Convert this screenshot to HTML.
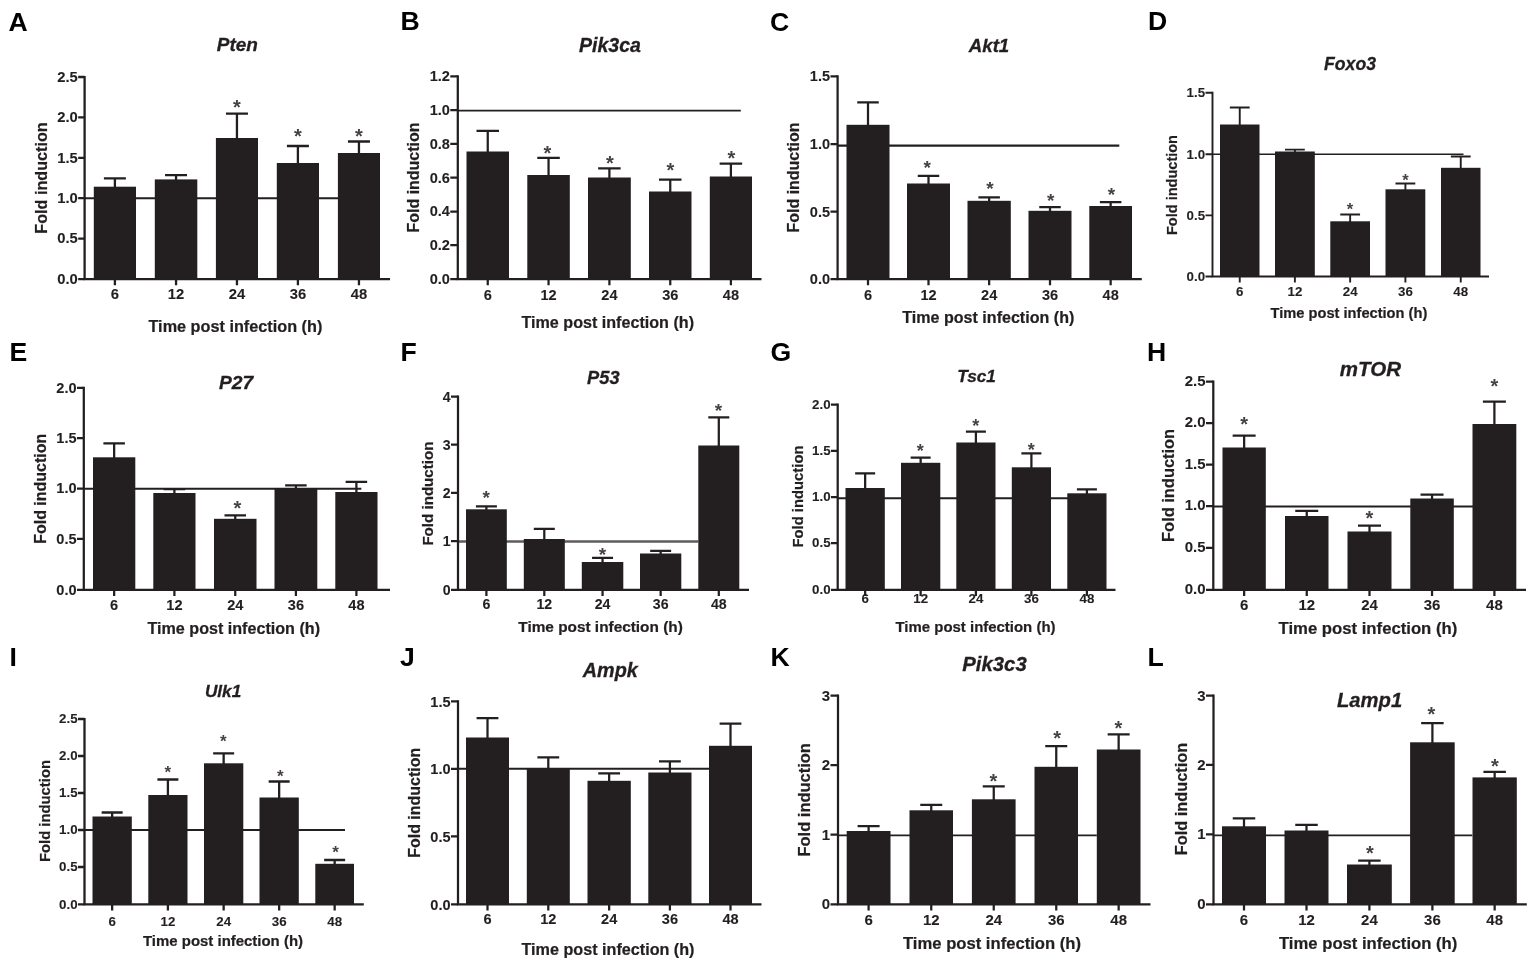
<!DOCTYPE html>
<html lang="en">
<head>
<meta charset="utf-8">
<title>Fold induction of autophagy-related genes over time post infection</title>
<style>
html,body{margin:0;padding:0;background:#fff;}
body{width:1535px;height:967px;overflow:hidden;}
svg{display:block;filter:blur(0.65px);}
text{font-family:"Liberation Sans",Arial,Helvetica,sans-serif;fill:#231f20;}
.t{font-weight:700;stroke:#231f20;stroke-width:0.22px;}
.k{stroke-width:0.1px;}
.ti{font-weight:700;font-style:italic;stroke:#231f20;stroke-width:0.3px;}
.l{font-weight:700;fill:#000;}
.s{font-weight:700;fill:#464243;}
.b{fill:#231f20;}
.a{fill:none;stroke:#231f20;}
.e{fill:none;stroke:#231f20;}
.r{fill:none;stroke:#231f20;}
</style>
</head>
<body>
<svg width="1535" height="967" viewBox="0 0 1535 967" role="img" aria-label="Bar charts of fold induction versus time post infection for twelve genes">
<rect x="0" y="0" width="1535" height="967" fill="#fff"/>
<g id="panel-A" stroke-width="2.3">
<line class="r" stroke-width="1.99" x1="84.6" y1="198.2" x2="340" y2="198.2"/>
<path class="e" d="M114.9 187.7V178.3M103.9 178.3H125.9"/>
<path class="e" d="M176.05 180.4V175.2M165.05 175.2H187.05"/>
<path class="e" d="M236.95 139V113.6M225.95 113.6H247.95"/>
<path class="e" d="M297.9 164V146M286.9 146H308.9"/>
<path class="e" d="M358.95 154V141.5M347.95 141.5H369.95"/>
<rect class="b" x="93.8" y="186.7" width="42.2" height="92.5"/>
<rect class="b" x="154.8" y="179.4" width="42.5" height="99.8"/>
<rect class="b" x="215.9" y="138" width="42.1" height="141.2"/>
<rect class="b" x="276.8" y="163" width="42.2" height="116.2"/>
<rect class="b" x="337.9" y="153" width="42.1" height="126.2"/>
<path class="a" d="M84.6 75.9V279.2H390"/>
<path class="a" d="M78.2 279.2H84.6M78.2 238.6H84.6M78.2 198.2H84.6M78.2 157.8H84.6M78.2 117.4H84.6M78.2 77H84.6M114.9 279.2V285.2M176.05 279.2V285.2M236.95 279.2V285.2M297.9 279.2V285.2M358.95 279.2V285.2"/>
<text class="t k" text-anchor="end" font-size="14.77" x="77.8" y="283.92">0.0</text>
<text class="t k" text-anchor="end" font-size="14.77" x="77.8" y="243.32">0.5</text>
<text class="t k" text-anchor="end" font-size="14.77" x="77.8" y="202.92">1.0</text>
<text class="t k" text-anchor="end" font-size="14.77" x="77.8" y="162.52">1.5</text>
<text class="t k" text-anchor="end" font-size="14.77" x="77.8" y="122.12">2.0</text>
<text class="t k" text-anchor="end" font-size="14.77" x="77.8" y="81.72">2.5</text>
<text class="t k" text-anchor="middle" font-size="14.77" x="114.9" y="298.8">6</text>
<text class="t k" text-anchor="middle" font-size="14.77" x="176.05" y="298.8">12</text>
<text class="t k" text-anchor="middle" font-size="14.77" x="236.95" y="298.8">24</text>
<text class="t k" text-anchor="middle" font-size="14.77" x="297.9" y="298.8">36</text>
<text class="t k" text-anchor="middle" font-size="14.77" x="358.95" y="298.8">48</text>
<text class="s" text-anchor="middle" font-size="20" x="236.9" y="113.9">*</text>
<text class="s" text-anchor="middle" font-size="20" x="298" y="142.6">*</text>
<text class="s" text-anchor="middle" font-size="20" x="358.8" y="142.6">*</text>
<text class="t" font-size="16.2" x="148.5" y="331.5" textLength="173.8" lengthAdjust="spacingAndGlyphs">Time post infection (h)</text>
<text class="t" font-size="16.69" transform="translate(46.6 233.75) rotate(-90)" x="0" y="0" textLength="111.5" lengthAdjust="spacingAndGlyphs">Fold induction</text>
<text class="ti" font-size="19" x="216.8" y="51.3" textLength="41.2" lengthAdjust="spacingAndGlyphs">Pten</text>
<text class="l" font-size="26.6" x="8.6" y="30.5">A</text>
</g>
<g id="panel-B" stroke-width="2.25">
<line class="r" stroke-width="1.94" x1="457.8" y1="110.6" x2="740.8" y2="110.6"/>
<path class="e" d="M487.75 152.5V130.8M476.5 130.8H499"/>
<path class="e" d="M548.55 176V157.8M537.3 157.8H559.8"/>
<path class="e" d="M609.4 178.5V168.3M598.15 168.3H620.65"/>
<path class="e" d="M670.25 192.5V179.5M659 179.5H681.5"/>
<path class="e" d="M730.9 177.5V163.5M719.65 163.5H742.15"/>
<rect class="b" x="466.5" y="151.5" width="42.5" height="127.7"/>
<rect class="b" x="527.3" y="175" width="42.5" height="104.2"/>
<rect class="b" x="588" y="177.5" width="42.8" height="101.7"/>
<rect class="b" x="649" y="191.5" width="42.5" height="87.7"/>
<rect class="b" x="709.8" y="176.5" width="42.2" height="102.7"/>
<path class="a" d="M457.8 75.2V279.2H761.5"/>
<path class="a" d="M450.3 279.2H457.8M450.3 245.2H457.8M450.3 211.5H457.8M450.3 177.7H457.8M450.3 143.9H457.8M450.3 110.2H457.8M450.3 76.3H457.8M487.75 279.2V285.2M548.55 279.2V285.2M609.4 279.2V285.2M670.25 279.2V285.2M730.9 279.2V285.2"/>
<text class="t k" text-anchor="end" font-size="14.56" x="449.9" y="284.14">0.0</text>
<text class="t k" text-anchor="end" font-size="14.56" x="449.9" y="250.14">0.2</text>
<text class="t k" text-anchor="end" font-size="14.56" x="449.9" y="216.44">0.4</text>
<text class="t k" text-anchor="end" font-size="14.56" x="449.9" y="182.64">0.6</text>
<text class="t k" text-anchor="end" font-size="14.56" x="449.9" y="148.84">0.8</text>
<text class="t k" text-anchor="end" font-size="14.56" x="449.9" y="115.14">1.0</text>
<text class="t k" text-anchor="end" font-size="14.56" x="449.9" y="81.24">1.2</text>
<text class="t k" text-anchor="middle" font-size="14.56" x="487.75" y="299.8">6</text>
<text class="t k" text-anchor="middle" font-size="14.56" x="548.55" y="299.8">12</text>
<text class="t k" text-anchor="middle" font-size="14.56" x="609.4" y="299.8">24</text>
<text class="t k" text-anchor="middle" font-size="14.56" x="670.25" y="299.8">36</text>
<text class="t k" text-anchor="middle" font-size="14.56" x="730.9" y="299.8">48</text>
<text class="s" text-anchor="middle" font-size="20" x="547.3" y="159.7">*</text>
<text class="s" text-anchor="middle" font-size="20" x="610" y="169.7">*</text>
<text class="s" text-anchor="middle" font-size="20" x="670.3" y="176.7">*</text>
<text class="s" text-anchor="middle" font-size="20" x="731.5" y="164.7">*</text>
<text class="t" font-size="16.2" x="521.5" y="327.5" textLength="172.5" lengthAdjust="spacingAndGlyphs">Time post infection (h)</text>
<text class="t" font-size="16.48" transform="translate(419.3 232.5) rotate(-90)" x="0" y="0" textLength="110" lengthAdjust="spacingAndGlyphs">Fold induction</text>
<text class="ti" font-size="19.5" x="579" y="52" textLength="62" lengthAdjust="spacingAndGlyphs">Pik3ca</text>
<text class="l" font-size="26.6" x="400.6" y="30.2">B</text>
</g>
<g id="panel-C" stroke-width="2.25">
<line class="r" stroke-width="2.4" x1="837.6" y1="145.6" x2="1119.3" y2="145.6"/>
<path class="e" d="M868 125.8V102.3M857.25 102.3H878.75"/>
<path class="e" d="M928.5 184.5V175.8M917.75 175.8H939.25"/>
<path class="e" d="M989.15 201.8V197.3M978.4 197.3H999.9"/>
<path class="e" d="M1050 211.8V207M1039.25 207H1060.75"/>
<path class="e" d="M1110.65 207V202M1099.9 202H1121.4"/>
<rect class="b" x="846.5" y="124.8" width="43" height="154.4"/>
<rect class="b" x="907" y="183.5" width="43" height="95.7"/>
<rect class="b" x="967.5" y="200.8" width="43.3" height="78.4"/>
<rect class="b" x="1028.5" y="210.8" width="43" height="68.4"/>
<rect class="b" x="1089.3" y="206" width="42.7" height="73.2"/>
<path class="a" d="M837.6 75.2V279.2H1141.8"/>
<path class="a" d="M830.5 279.2H837.6M830.5 211.6H837.6M830.5 144.2H837.6M830.5 76.3H837.6M868 279.2V285.2M928.5 279.2V285.2M989.15 279.2V285.2M1050 279.2V285.2M1110.65 279.2V285.2"/>
<text class="t k" text-anchor="end" font-size="14.56" x="830.1" y="284.14">0.0</text>
<text class="t k" text-anchor="end" font-size="14.56" x="830.1" y="216.54">0.5</text>
<text class="t k" text-anchor="end" font-size="14.56" x="830.1" y="149.14">1.0</text>
<text class="t k" text-anchor="end" font-size="14.56" x="830.1" y="81.24">1.5</text>
<text class="t k" text-anchor="middle" font-size="14.56" x="868" y="299.8">6</text>
<text class="t k" text-anchor="middle" font-size="14.56" x="928.5" y="299.8">12</text>
<text class="t k" text-anchor="middle" font-size="14.56" x="989.15" y="299.8">24</text>
<text class="t k" text-anchor="middle" font-size="14.56" x="1050" y="299.8">36</text>
<text class="t k" text-anchor="middle" font-size="14.56" x="1110.65" y="299.8">48</text>
<text class="s" text-anchor="middle" font-size="19" x="927.3" y="174.44">*</text>
<text class="s" text-anchor="middle" font-size="19" x="990" y="194.94">*</text>
<text class="s" text-anchor="middle" font-size="19" x="1050.8" y="206.74">*</text>
<text class="s" text-anchor="middle" font-size="19" x="1111.5" y="201.44">*</text>
<text class="t" font-size="16.1" x="902.3" y="322.5" textLength="172" lengthAdjust="spacingAndGlyphs">Time post infection (h)</text>
<text class="t" font-size="16.48" transform="translate(799.3 232.5) rotate(-90)" x="0" y="0" textLength="110" lengthAdjust="spacingAndGlyphs">Fold induction</text>
<text class="ti" font-size="19" x="968.75" y="52" textLength="40.5" lengthAdjust="spacingAndGlyphs">Akt1</text>
<text class="l" font-size="26.6" x="770.1" y="30.9">C</text>
</g>
<g id="panel-D" stroke-width="1.9">
<line class="r" stroke-width="1.64" x1="1212.5" y1="154.3" x2="1463.5" y2="154.3"/>
<path class="e" d="M1239.75 125.5V107.5M1229.85 107.5H1249.65"/>
<path class="e" d="M1294.9 152.5V149.6M1285 149.6H1304.8"/>
<path class="e" d="M1350.15 222.3V214.5M1340.25 214.5H1360.05"/>
<path class="e" d="M1405.4 190.3V183.5M1395.5 183.5H1415.3"/>
<path class="e" d="M1460.75 168.8V156.5M1450.85 156.5H1470.65"/>
<rect class="b" x="1220" y="124.5" width="39.5" height="152"/>
<rect class="b" x="1275" y="151.5" width="39.8" height="125"/>
<rect class="b" x="1330.3" y="221.3" width="39.7" height="55.2"/>
<rect class="b" x="1385.5" y="189.3" width="39.8" height="87.2"/>
<rect class="b" x="1441" y="167.8" width="39.5" height="108.7"/>
<path class="a" d="M1212.5 91.7V276.5H1489"/>
<path class="a" d="M1205.5 276.5H1212.5M1205.5 215.4H1212.5M1205.5 154.2H1212.5M1205.5 92.8H1212.5M1239.75 276.5V282.5M1294.9 276.5V282.5M1350.15 276.5V282.5M1405.4 276.5V282.5M1460.75 276.5V282.5"/>
<text class="t k" text-anchor="end" font-size="13.31" x="1205.1" y="280.99">0.0</text>
<text class="t k" text-anchor="end" font-size="13.31" x="1205.1" y="219.89">0.5</text>
<text class="t k" text-anchor="end" font-size="13.31" x="1205.1" y="158.69">1.0</text>
<text class="t k" text-anchor="end" font-size="13.31" x="1205.1" y="97.29">1.5</text>
<text class="t k" text-anchor="middle" font-size="13.31" x="1239.75" y="295.5">6</text>
<text class="t k" text-anchor="middle" font-size="13.31" x="1294.9" y="295.5">12</text>
<text class="t k" text-anchor="middle" font-size="13.31" x="1350.15" y="295.5">24</text>
<text class="t k" text-anchor="middle" font-size="13.31" x="1405.4" y="295.5">36</text>
<text class="t k" text-anchor="middle" font-size="13.31" x="1460.75" y="295.5">48</text>
<text class="s" text-anchor="middle" font-size="16.5" x="1350" y="215.42">*</text>
<text class="s" text-anchor="middle" font-size="16.5" x="1405.5" y="185.72">*</text>
<text class="t" font-size="14.7" x="1270.5" y="317.5" textLength="156.8" lengthAdjust="spacingAndGlyphs">Time post infection (h)</text>
<text class="t" font-size="14.94" transform="translate(1177.3 235) rotate(-90)" x="0" y="0" textLength="100" lengthAdjust="spacingAndGlyphs">Fold induction</text>
<text class="ti" font-size="17.5" x="1324" y="69.5" textLength="52" lengthAdjust="spacingAndGlyphs">Foxo3</text>
<text class="l" font-size="26.6" x="1147.9" y="30.2">D</text>
</g>
<g id="panel-E" stroke-width="2.25">
<line class="r" stroke-width="1.94" x1="83.8" y1="488.8" x2="361.3" y2="488.8"/>
<path class="e" d="M114.15 458.3V443.4M103.4 443.4H124.9"/>
<path class="e" d="M174.4 494V489.2M163.65 489.2H185.15"/>
<path class="e" d="M235.25 519.8V515.3M224.5 515.3H246"/>
<path class="e" d="M295.9 489.5V485.3M285.15 485.3H306.65"/>
<path class="e" d="M356.4 493V481.8M345.65 481.8H367.15"/>
<rect class="b" x="93" y="457.3" width="42.3" height="132.6"/>
<rect class="b" x="153.3" y="493" width="42.2" height="96.9"/>
<rect class="b" x="214" y="518.8" width="42.5" height="71.1"/>
<rect class="b" x="274.5" y="488.5" width="42.8" height="101.4"/>
<rect class="b" x="335.3" y="492" width="42.2" height="97.9"/>
<path class="a" d="M83.8 386.7V589.9H390"/>
<path class="a" d="M77 589.9H83.8M77 538.9H83.8M77 488.5H83.8M77 438.2H83.8M77 387.8H83.8M114.15 589.9V595.9M174.4 589.9V595.9M235.25 589.9V595.9M295.9 589.9V595.9M356.4 589.9V595.9"/>
<text class="t k" text-anchor="end" font-size="14.56" x="76.6" y="594.84">0.0</text>
<text class="t k" text-anchor="end" font-size="14.56" x="76.6" y="543.84">0.5</text>
<text class="t k" text-anchor="end" font-size="14.56" x="76.6" y="493.44">1.0</text>
<text class="t k" text-anchor="end" font-size="14.56" x="76.6" y="443.14">1.5</text>
<text class="t k" text-anchor="end" font-size="14.56" x="76.6" y="392.74">2.0</text>
<text class="t k" text-anchor="middle" font-size="14.56" x="114.15" y="609.9">6</text>
<text class="t k" text-anchor="middle" font-size="14.56" x="174.4" y="609.9">12</text>
<text class="t k" text-anchor="middle" font-size="14.56" x="235.25" y="609.9">24</text>
<text class="t k" text-anchor="middle" font-size="14.56" x="295.9" y="609.9">36</text>
<text class="t k" text-anchor="middle" font-size="14.56" x="356.4" y="609.9">48</text>
<text class="s" text-anchor="middle" font-size="20" x="237.3" y="515">*</text>
<text class="t" font-size="16.2" x="147.5" y="634.4" textLength="172.5" lengthAdjust="spacingAndGlyphs">Time post infection (h)</text>
<text class="t" font-size="16.48" transform="translate(45.6 543.8) rotate(-90)" x="0" y="0" textLength="110" lengthAdjust="spacingAndGlyphs">Fold induction</text>
<text class="ti" font-size="19" x="218.9" y="389.3" textLength="34.2" lengthAdjust="spacingAndGlyphs">P27</text>
<text class="l" font-size="26.6" x="9.6" y="361.2">E</text>
</g>
<g id="panel-F" stroke-width="2.25">
<line class="r" stroke-width="2.3" style="stroke:#5f5b5c" x1="458" y1="541.5" x2="698.3" y2="541.5"/>
<path class="e" d="M486.4 510.3V506.3M475.9 506.3H496.9"/>
<path class="e" d="M544.3 540V528.9M533.8 528.9H554.8"/>
<path class="e" d="M602.55 563V557.8M592.05 557.8H613.05"/>
<path class="e" d="M660.65 554.5V550.8M650.15 550.8H671.15"/>
<path class="e" d="M718.8 446.5V417.3M708.3 417.3H729.3"/>
<rect class="b" x="466" y="509.3" width="40.8" height="80.6"/>
<rect class="b" x="523.8" y="539" width="41" height="50.9"/>
<rect class="b" x="581.8" y="562" width="41.5" height="27.9"/>
<rect class="b" x="640" y="553.5" width="41.3" height="36.4"/>
<rect class="b" x="698.3" y="445.5" width="41" height="144.4"/>
<path class="a" d="M458 395.4V589.9H749"/>
<path class="a" d="M451 589.9H458M451 541.1H458M451 492.9H458M451 444.7H458M451 396.5H458M486.4 589.9V595.9M544.3 589.9V595.9M602.55 589.9V595.9M660.65 589.9V595.9M718.8 589.9V595.9"/>
<text class="t k" text-anchor="end" font-size="14.14" x="450.6" y="595.19">0</text>
<text class="t k" text-anchor="end" font-size="14.14" x="450.6" y="546.39">1</text>
<text class="t k" text-anchor="end" font-size="14.14" x="450.6" y="498.19">2</text>
<text class="t k" text-anchor="end" font-size="14.14" x="450.6" y="449.99">3</text>
<text class="t k" text-anchor="end" font-size="14.14" x="450.6" y="401.79">4</text>
<text class="t k" text-anchor="middle" font-size="14.14" x="486.4" y="609.1">6</text>
<text class="t k" text-anchor="middle" font-size="14.14" x="544.3" y="609.1">12</text>
<text class="t k" text-anchor="middle" font-size="14.14" x="602.55" y="609.1">24</text>
<text class="t k" text-anchor="middle" font-size="14.14" x="660.65" y="609.1">36</text>
<text class="t k" text-anchor="middle" font-size="14.14" x="718.8" y="609.1">48</text>
<text class="s" text-anchor="middle" font-size="19" x="486.3" y="503.59">*</text>
<text class="s" text-anchor="middle" font-size="19" x="602.5" y="561.09">*</text>
<text class="s" text-anchor="middle" font-size="19" x="718.5" y="417.29">*</text>
<text class="t" font-size="15.4" x="518.3" y="631.5" textLength="164.5" lengthAdjust="spacingAndGlyphs">Time post infection (h)</text>
<text class="t" font-size="15.55" transform="translate(433.1 545.6) rotate(-90)" x="0" y="0" textLength="104" lengthAdjust="spacingAndGlyphs">Fold induction</text>
<text class="ti" font-size="18.3" x="587.05" y="383.8" textLength="32.5" lengthAdjust="spacingAndGlyphs">P53</text>
<text class="l" font-size="26.6" x="400.4" y="360.5">F</text>
</g>
<g id="panel-G" stroke-width="2.25">
<line class="r" stroke-width="1.94" x1="837.7" y1="498.3" x2="1068" y2="498.3"/>
<path class="e" d="M865.15 489V473.3M855.15 473.3H875.15"/>
<path class="e" d="M920.65 463.8V457.5M910.65 457.5H930.65"/>
<path class="e" d="M975.9 443.5V431.5M965.9 431.5H985.9"/>
<path class="e" d="M1031.4 468.3V453.3M1021.4 453.3H1041.4"/>
<path class="e" d="M1086.9 494.3V489.3M1076.9 489.3H1096.9"/>
<rect class="b" x="845.5" y="488" width="39.3" height="101.9"/>
<rect class="b" x="901" y="462.8" width="39.3" height="127.1"/>
<rect class="b" x="956.3" y="442.5" width="39.2" height="147.4"/>
<rect class="b" x="1011.8" y="467.3" width="39.2" height="122.6"/>
<rect class="b" x="1067.3" y="493.3" width="39.2" height="96.6"/>
<path class="a" d="M837.7 403.4V589.9H1115.5"/>
<path class="a" d="M831 589.9H837.7M831 543.2H837.7M831 497.1H837.7M831 450.9H837.7M831 404.5H837.7M865.15 589.9V595.9M920.65 589.9V595.9M975.9 589.9V595.9M1031.4 589.9V595.9M1086.9 589.9V595.9"/>
<text class="t k" text-anchor="end" font-size="13.31" x="830.6" y="593.99">0.0</text>
<text class="t k" text-anchor="end" font-size="13.31" x="830.6" y="547.29">0.5</text>
<text class="t k" text-anchor="end" font-size="13.31" x="830.6" y="501.19">1.0</text>
<text class="t k" text-anchor="end" font-size="13.31" x="830.6" y="454.99">1.5</text>
<text class="t k" text-anchor="end" font-size="13.31" x="830.6" y="408.59">2.0</text>
<text class="t k" text-anchor="middle" font-size="13.31" x="865.15" y="603.1">6</text>
<text class="t k" text-anchor="middle" font-size="13.31" x="920.65" y="603.1">12</text>
<text class="t k" text-anchor="middle" font-size="13.31" x="975.9" y="603.1">24</text>
<text class="t k" text-anchor="middle" font-size="13.31" x="1031.4" y="603.1">36</text>
<text class="t k" text-anchor="middle" font-size="13.31" x="1086.9" y="603.1">48</text>
<text class="s" text-anchor="middle" font-size="18" x="920.3" y="457.28">*</text>
<text class="s" text-anchor="middle" font-size="18" x="975.8" y="431.78">*</text>
<text class="s" text-anchor="middle" font-size="18" x="1031.3" y="455.58">*</text>
<text class="t" font-size="14.9" x="895.5" y="632" textLength="160" lengthAdjust="spacingAndGlyphs">Time post infection (h)</text>
<text class="t" font-size="15.24" transform="translate(803.2 547.5) rotate(-90)" x="0" y="0" textLength="102" lengthAdjust="spacingAndGlyphs">Fold induction</text>
<text class="ti" font-size="17.3" x="957.25" y="381.8" textLength="38.7" lengthAdjust="spacingAndGlyphs">Tsc1</text>
<text class="l" font-size="26.6" x="770.6" y="360.7">G</text>
</g>
<g id="panel-H" stroke-width="2.25">
<line class="r" stroke-width="1.94" x1="1213.3" y1="506.5" x2="1473.5" y2="506.5"/>
<path class="e" d="M1244.15 448.5V435.5M1232.65 435.5H1255.65"/>
<path class="e" d="M1306.75 517V510.8M1295.25 510.8H1318.25"/>
<path class="e" d="M1369.5 532.5V525.5M1358 525.5H1381"/>
<path class="e" d="M1432.05 499.5V494.5M1420.55 494.5H1443.55"/>
<path class="e" d="M1494.4 425V401.5M1482.9 401.5H1505.9"/>
<rect class="b" x="1222.5" y="447.5" width="43.3" height="142.4"/>
<rect class="b" x="1285" y="516" width="43.5" height="73.9"/>
<rect class="b" x="1347.5" y="531.5" width="44" height="58.4"/>
<rect class="b" x="1410.3" y="498.5" width="43.5" height="91.4"/>
<rect class="b" x="1472.5" y="424" width="43.8" height="165.9"/>
<path class="a" d="M1213.3 380.4V589.9H1526"/>
<path class="a" d="M1206 589.9H1213.3M1206 547.8H1213.3M1206 506.2H1213.3M1206 464.7H1213.3M1206 423.1H1213.3M1206 381.5H1213.3M1244.15 589.9V595.9M1306.75 589.9V595.9M1369.5 589.9V595.9M1432.05 589.9V595.9M1494.4 589.9V595.9"/>
<text class="t k" text-anchor="end" font-size="14.98" x="1205.6" y="594.19">0.0</text>
<text class="t k" text-anchor="end" font-size="14.98" x="1205.6" y="552.09">0.5</text>
<text class="t k" text-anchor="end" font-size="14.98" x="1205.6" y="510.49">1.0</text>
<text class="t k" text-anchor="end" font-size="14.98" x="1205.6" y="468.99">1.5</text>
<text class="t k" text-anchor="end" font-size="14.98" x="1205.6" y="427.39">2.0</text>
<text class="t k" text-anchor="end" font-size="14.98" x="1205.6" y="385.79">2.5</text>
<text class="t k" text-anchor="middle" font-size="14.98" x="1244.15" y="609.8">6</text>
<text class="t k" text-anchor="middle" font-size="14.98" x="1306.75" y="609.8">12</text>
<text class="t k" text-anchor="middle" font-size="14.98" x="1369.5" y="609.8">24</text>
<text class="t k" text-anchor="middle" font-size="14.98" x="1432.05" y="609.8">36</text>
<text class="t k" text-anchor="middle" font-size="14.98" x="1494.4" y="609.8">48</text>
<text class="s" text-anchor="middle" font-size="20" x="1244.2" y="430.6">*</text>
<text class="s" text-anchor="middle" font-size="20" x="1369.3" y="524.6">*</text>
<text class="s" text-anchor="middle" font-size="20" x="1494.3" y="392.6">*</text>
<text class="t" font-size="16.7" x="1278.5" y="633.8" textLength="178.8" lengthAdjust="spacingAndGlyphs">Time post infection (h)</text>
<text class="t" font-size="16.89" transform="translate(1174.1 541.9) rotate(-90)" x="0" y="0" textLength="113" lengthAdjust="spacingAndGlyphs">Fold induction</text>
<text class="ti" font-size="20.5" x="1339.8" y="376" textLength="61.2" lengthAdjust="spacingAndGlyphs">mTOR</text>
<text class="l" font-size="26.6" x="1147.1" y="360.8">H</text>
</g>
<g id="panel-I" stroke-width="2.3">
<line class="r" stroke-width="1.99" x1="84.5" y1="830" x2="345" y2="830"/>
<path class="e" d="M112.15 817.5V812.5M101.65 812.5H122.65"/>
<path class="e" d="M167.9 796V779.5M157.4 779.5H178.4"/>
<path class="e" d="M223.65 764.3V753.3M213.15 753.3H234.15"/>
<path class="e" d="M279.15 798.5V781.5M268.65 781.5H289.65"/>
<path class="e" d="M334.65 864.8V860M324.15 860H345.15"/>
<rect class="b" x="92.5" y="816.5" width="39.3" height="87.9"/>
<rect class="b" x="148.3" y="795" width="39.2" height="109.4"/>
<rect class="b" x="204" y="763.3" width="39.3" height="141.1"/>
<rect class="b" x="259.5" y="797.5" width="39.3" height="106.9"/>
<rect class="b" x="315.3" y="863.8" width="38.7" height="40.6"/>
<path class="a" d="M84.5 717.9V904.4H363.8"/>
<path class="a" d="M78 904.4H84.5M78 867H84.5M78 830H84.5M78 793H84.5M78 756H84.5M78 719H84.5M112.15 904.4V910.4M167.9 904.4V910.4M223.65 904.4V910.4M279.15 904.4V910.4M334.65 904.4V910.4"/>
<text class="t k" text-anchor="end" font-size="13.31" x="77.6" y="908.89">0.0</text>
<text class="t k" text-anchor="end" font-size="13.31" x="77.6" y="871.49">0.5</text>
<text class="t k" text-anchor="end" font-size="13.31" x="77.6" y="834.49">1.0</text>
<text class="t k" text-anchor="end" font-size="13.31" x="77.6" y="797.49">1.5</text>
<text class="t k" text-anchor="end" font-size="13.31" x="77.6" y="760.49">2.0</text>
<text class="t k" text-anchor="end" font-size="13.31" x="77.6" y="723.49">2.5</text>
<text class="t k" text-anchor="middle" font-size="13.31" x="112.15" y="926.3">6</text>
<text class="t k" text-anchor="middle" font-size="13.31" x="167.9" y="926.3">12</text>
<text class="t k" text-anchor="middle" font-size="13.31" x="223.65" y="926.3">24</text>
<text class="t k" text-anchor="middle" font-size="13.31" x="279.15" y="926.3">36</text>
<text class="t k" text-anchor="middle" font-size="13.31" x="334.65" y="926.3">48</text>
<text class="s" text-anchor="middle" font-size="17" x="167.8" y="778.28">*</text>
<text class="s" text-anchor="middle" font-size="17" x="223.3" y="747.08">*</text>
<text class="s" text-anchor="middle" font-size="17" x="280.3" y="781.78">*</text>
<text class="s" text-anchor="middle" font-size="17" x="335.5" y="858.28">*</text>
<text class="t" font-size="14.9" x="143" y="945.5" textLength="160" lengthAdjust="spacingAndGlyphs">Time post infection (h)</text>
<text class="t" font-size="15.24" transform="translate(49.6 862) rotate(-90)" x="0" y="0" textLength="102" lengthAdjust="spacingAndGlyphs">Fold induction</text>
<text class="ti" font-size="17.2" x="204.95" y="696.8" textLength="36.3" lengthAdjust="spacingAndGlyphs">Ulk1</text>
<text class="l" font-size="26.6" x="9.4" y="665.7">I</text>
</g>
<g id="panel-J" stroke-width="2.25">
<line class="r" stroke-width="1.94" x1="458" y1="768.8" x2="709" y2="768.8"/>
<path class="e" d="M487.5 738.5V718M476.6 718H498.4"/>
<path class="e" d="M548.3 769.3V757.3M537.4 757.3H559.2"/>
<path class="e" d="M609.15 781.8V773.3M598.25 773.3H620.05"/>
<path class="e" d="M669.9 773.5V761.3M659 761.3H680.8"/>
<path class="e" d="M730.5 746.8V723.5M719.6 723.5H741.4"/>
<rect class="b" x="466" y="737.5" width="43" height="166.9"/>
<rect class="b" x="526.8" y="768.3" width="43" height="136.1"/>
<rect class="b" x="587.5" y="780.8" width="43.3" height="123.6"/>
<rect class="b" x="648.3" y="772.5" width="43.2" height="131.9"/>
<rect class="b" x="709" y="745.8" width="43" height="158.6"/>
<path class="a" d="M458 700.2V904.4H761.5"/>
<path class="a" d="M451 904.4H458M451 836.4H458M451 768.8H458M451 701.3H458M487.5 904.4V910.4M548.3 904.4V910.4M609.15 904.4V910.4M669.9 904.4V910.4M730.5 904.4V910.4"/>
<text class="t k" text-anchor="end" font-size="14.56" x="450.6" y="909.84">0.0</text>
<text class="t k" text-anchor="end" font-size="14.56" x="450.6" y="841.84">0.5</text>
<text class="t k" text-anchor="end" font-size="14.56" x="450.6" y="774.24">1.0</text>
<text class="t k" text-anchor="end" font-size="14.56" x="450.6" y="706.74">1.5</text>
<text class="t k" text-anchor="middle" font-size="14.56" x="487.5" y="924.1">6</text>
<text class="t k" text-anchor="middle" font-size="14.56" x="548.3" y="924.1">12</text>
<text class="t k" text-anchor="middle" font-size="14.56" x="609.15" y="924.1">24</text>
<text class="t k" text-anchor="middle" font-size="14.56" x="669.9" y="924.1">36</text>
<text class="t k" text-anchor="middle" font-size="14.56" x="730.5" y="924.1">48</text>
<text class="t" font-size="16.2" x="521.5" y="955.4" textLength="173" lengthAdjust="spacingAndGlyphs">Time post infection (h)</text>
<text class="t" font-size="16.48" transform="translate(419.6 857.8) rotate(-90)" x="0" y="0" textLength="110" lengthAdjust="spacingAndGlyphs">Fold induction</text>
<text class="ti" font-size="19.8" x="582.8" y="676.5" textLength="55" lengthAdjust="spacingAndGlyphs">Ampk</text>
<text class="l" font-size="26.6" x="400.1" y="665.7">J</text>
</g>
<g id="panel-K" stroke-width="2.25">
<line class="r" stroke-width="1.94" x1="838" y1="835.4" x2="1096.8" y2="835.4"/>
<path class="e" d="M868.6 832V826M857.6 826H879.6"/>
<path class="e" d="M931.25 811.3V804.8M920.25 804.8H942.25"/>
<path class="e" d="M993.75 800.3V786.3M982.75 786.3H1004.75"/>
<path class="e" d="M1056.25 767.8V746M1045.25 746H1067.25"/>
<path class="e" d="M1118.65 750.5V734.3M1107.65 734.3H1129.65"/>
<rect class="b" x="846.7" y="831" width="43.8" height="73.4"/>
<rect class="b" x="909.5" y="810.3" width="43.5" height="94.1"/>
<rect class="b" x="971.9" y="799.3" width="43.7" height="105.1"/>
<rect class="b" x="1034.5" y="766.8" width="43.5" height="137.6"/>
<rect class="b" x="1096.8" y="749.5" width="43.7" height="154.9"/>
<path class="a" d="M838 694.4V904.4H1150.5"/>
<path class="a" d="M830.5 904.4H838M830.5 834.5H838M830.5 765H838M830.5 695.5H838M868.6 904.4V910.4M931.25 904.4V910.4M993.75 904.4V910.4M1056.25 904.4V910.4M1118.65 904.4V910.4"/>
<text class="t k" text-anchor="end" font-size="14.98" x="830.1" y="909.49">0</text>
<text class="t k" text-anchor="end" font-size="14.98" x="830.1" y="839.59">1</text>
<text class="t k" text-anchor="end" font-size="14.98" x="830.1" y="770.09">2</text>
<text class="t k" text-anchor="end" font-size="14.98" x="830.1" y="700.59">3</text>
<text class="t k" text-anchor="middle" font-size="14.98" x="868.6" y="924.8">6</text>
<text class="t k" text-anchor="middle" font-size="14.98" x="931.25" y="924.8">12</text>
<text class="t k" text-anchor="middle" font-size="14.98" x="993.75" y="924.8">24</text>
<text class="t k" text-anchor="middle" font-size="14.98" x="1056.25" y="924.8">36</text>
<text class="t k" text-anchor="middle" font-size="14.98" x="1118.65" y="924.8">48</text>
<text class="s" text-anchor="middle" font-size="20" x="993.5" y="787.5">*</text>
<text class="s" text-anchor="middle" font-size="20" x="1057.2" y="745">*</text>
<text class="s" text-anchor="middle" font-size="20" x="1118.5" y="735">*</text>
<text class="t" font-size="16.7" x="903" y="948.8" textLength="178" lengthAdjust="spacingAndGlyphs">Time post infection (h)</text>
<text class="t" font-size="16.89" transform="translate(810.3 856.55) rotate(-90)" x="0" y="0" textLength="113.5" lengthAdjust="spacingAndGlyphs">Fold induction</text>
<text class="ti" font-size="20.3" x="962.25" y="670.5" textLength="64.5" lengthAdjust="spacingAndGlyphs">Pik3c3</text>
<text class="l" font-size="26.6" x="770.6" y="665.7">K</text>
</g>
<g id="panel-L" stroke-width="2.25">
<line class="r" stroke-width="1.94" x1="1213.5" y1="835.4" x2="1472.3" y2="835.4"/>
<path class="e" d="M1244 827.3V818.3M1232.75 818.3H1255.25"/>
<path class="e" d="M1306.5 831.5V824.8M1295.25 824.8H1317.75"/>
<path class="e" d="M1369.4 865.5V860.5M1358.15 860.5H1380.65"/>
<path class="e" d="M1432.4 743.3V723M1421.15 723H1443.65"/>
<path class="e" d="M1494.65 778.4V771.9M1483.4 771.9H1505.9"/>
<rect class="b" x="1222" y="826.3" width="44" height="78.1"/>
<rect class="b" x="1284.5" y="830.5" width="44" height="73.9"/>
<rect class="b" x="1347" y="864.5" width="44.8" height="39.9"/>
<rect class="b" x="1410.1" y="742.3" width="44.6" height="162.1"/>
<rect class="b" x="1472.5" y="777.4" width="44.3" height="127"/>
<path class="a" d="M1213.5 694.4V904.4H1526.8"/>
<path class="a" d="M1206 904.4H1213.5M1206 834.4H1213.5M1206 764.8H1213.5M1206 695.5H1213.5M1244 904.4V910.4M1306.5 904.4V910.4M1369.4 904.4V910.4M1432.4 904.4V910.4M1494.65 904.4V910.4"/>
<text class="t k" text-anchor="end" font-size="14.98" x="1205.6" y="909.49">0</text>
<text class="t k" text-anchor="end" font-size="14.98" x="1205.6" y="839.49">1</text>
<text class="t k" text-anchor="end" font-size="14.98" x="1205.6" y="769.89">2</text>
<text class="t k" text-anchor="end" font-size="14.98" x="1205.6" y="700.59">3</text>
<text class="t k" text-anchor="middle" font-size="14.98" x="1244" y="924.8">6</text>
<text class="t k" text-anchor="middle" font-size="14.98" x="1306.5" y="924.8">12</text>
<text class="t k" text-anchor="middle" font-size="14.98" x="1369.4" y="924.8">24</text>
<text class="t k" text-anchor="middle" font-size="14.98" x="1432.4" y="924.8">36</text>
<text class="t k" text-anchor="middle" font-size="14.98" x="1494.65" y="924.8">48</text>
<text class="s" text-anchor="middle" font-size="20" x="1369.8" y="860.4">*</text>
<text class="s" text-anchor="middle" font-size="20" x="1431.4" y="720.6">*</text>
<text class="s" text-anchor="middle" font-size="20" x="1494.8" y="772.6">*</text>
<text class="t" font-size="16.7" x="1279" y="948.8" textLength="178.3" lengthAdjust="spacingAndGlyphs">Time post infection (h)</text>
<text class="t" font-size="16.89" transform="translate(1186.6 855.25) rotate(-90)" x="0" y="0" textLength="112.5" lengthAdjust="spacingAndGlyphs">Fold induction</text>
<text class="ti" font-size="20.8" x="1337" y="707" textLength="65.2" lengthAdjust="spacingAndGlyphs">Lamp1</text>
<text class="l" font-size="26.6" x="1147.6" y="665.7">L</text>
</g>
</svg>
</body>
</html>
